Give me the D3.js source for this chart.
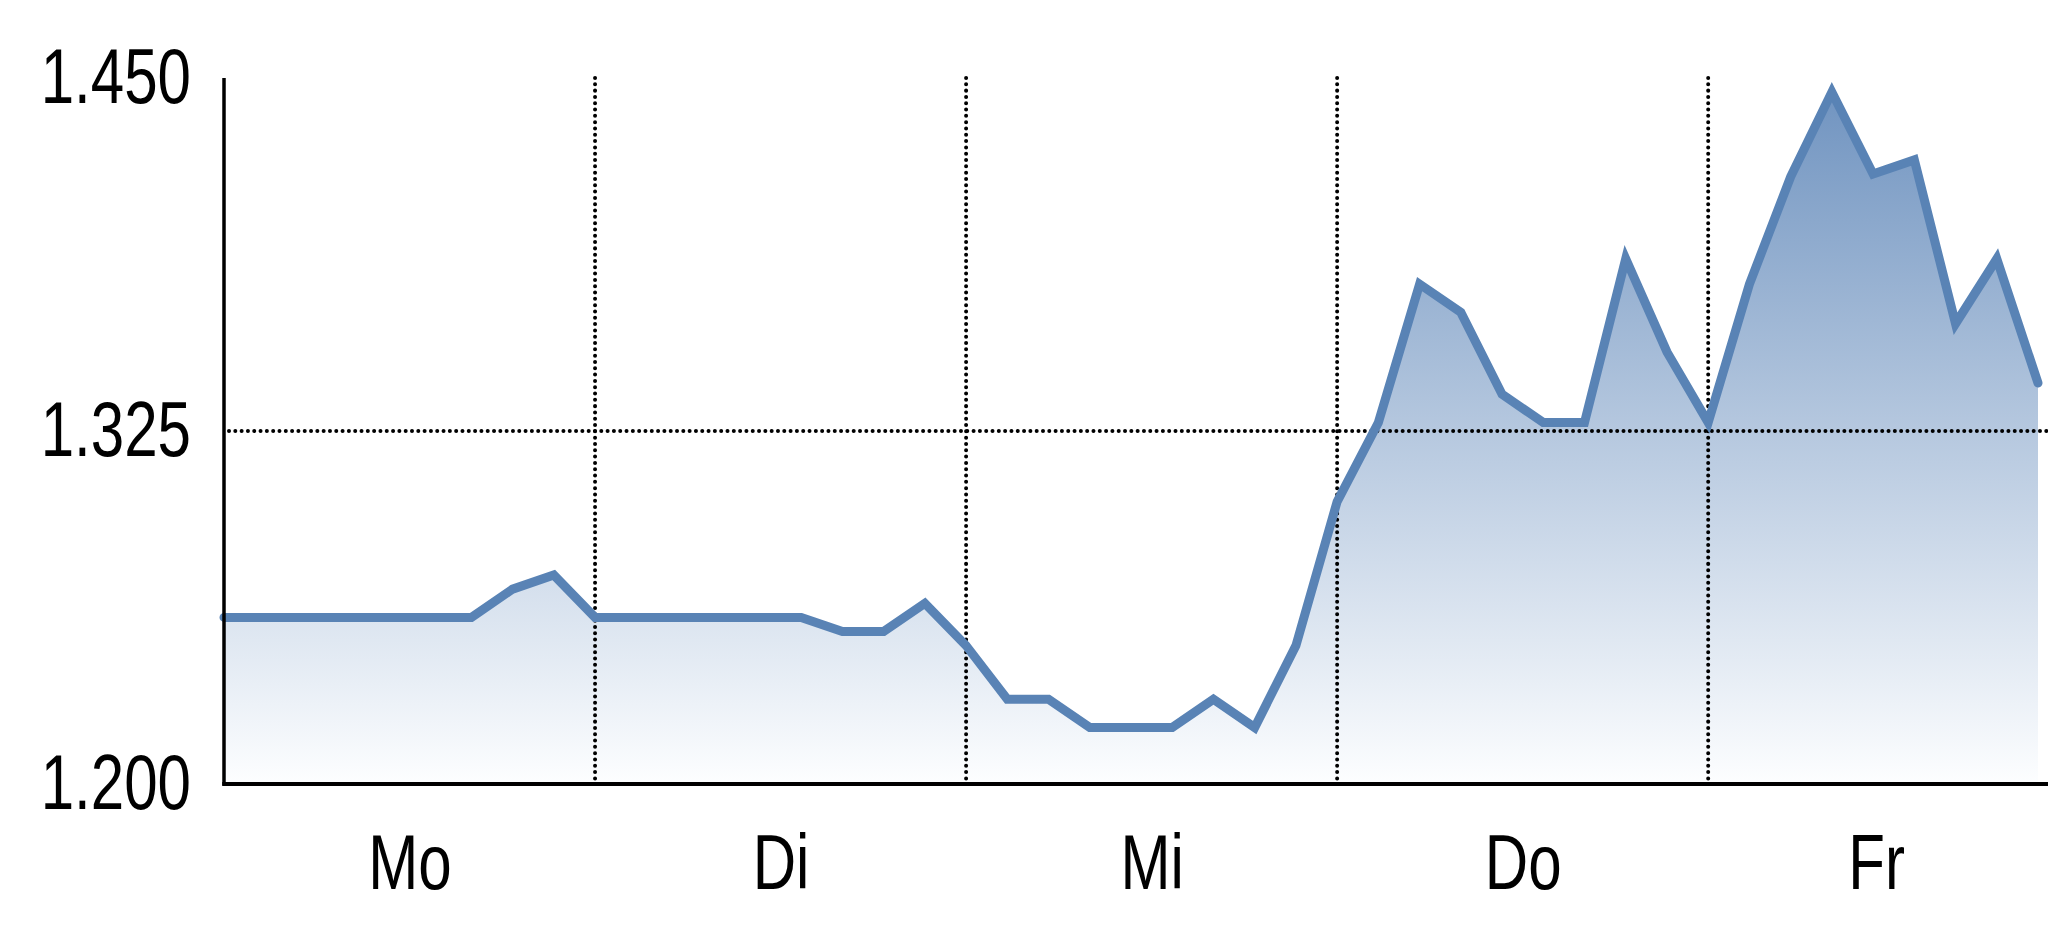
<!DOCTYPE html>
<html>
<head>
<meta charset="utf-8">
<script src="https://cdn.jsdelivr.net/npm/d3@7"></script>
<style>
  html, body { margin: 0; padding: 0; background: #ffffff; }
  svg { display: block; }
  .lbl { font-family: "Liberation Sans Narrow", "Arial Narrow", "Liberation Sans", Arial, sans-serif; font-size: 77px; fill: #000; }
</style>
</head>
<body>
<svg id="chart" width="2048" height="937"></svg>
<script>
// ---- data ----
const days = ["Mo", "Di", "Mi", "Do", "Fr"];
const pointsPerDay = 9;
const values = [
  // Mo
  1.259, 1.259, 1.259, 1.259, 1.259, 1.259, 1.259, 1.269, 1.274,
  // Di
  1.259, 1.259, 1.259, 1.259, 1.259, 1.259, 1.254, 1.254, 1.264,
  // Mi
  1.249, 1.230, 1.230, 1.220, 1.220, 1.220, 1.230, 1.220, 1.249,
  // Do
  1.300, 1.328, 1.377, 1.367, 1.338, 1.328, 1.328, 1.386, 1.353,
  // Fr
  1.328, 1.377, 1.415, 1.445, 1.416, 1.421, 1.363, 1.386, 1.342
];
const yTicks = [1.200, 1.325, 1.450];
const yGrid = [1.325];

// ---- layout ----
const M = { left: 224, right: 2038, top: 78, bottom: 784, axisEnd: 2048, plotRight: 2044 };
const condense = 0.78;

const svg = d3.select("#chart");
const x = d3.scaleLinear().domain([0, values.length - 1]).range([M.left, M.right]);
const y = d3.scaleLinear().domain([1.2, 1.45]).range([M.bottom, M.top]);

// gradient
const defs = svg.append("defs");
const grad = defs.append("linearGradient")
  .attr("id", "areaGrad").attr("gradientUnits", "userSpaceOnUse")
  .attr("x1", 0).attr("x2", 0).attr("y1", y(1.45)).attr("y2", y(1.2));
grad.append("stop").attr("offset", "0%").attr("stop-color", "rgb(110,146,191)");
grad.append("stop").attr("offset", "100%").attr("stop-color", "rgb(253,254,255)");

// area
const area = d3.area()
  .x((d, i) => x(i)).y0(y(1.2)).y1(d => y(d));
svg.append("path").datum(values)
  .attr("d", area).attr("fill", "url(#areaGrad)");

// grid
const dotStyle = sel => sel.attr("stroke", "#000").attr("stroke-width", 4)
  .attr("stroke-linecap", "round").attr("stroke-dasharray", "0.01 6.3");
const dayBounds = d3.range(1, days.length).map(k => k * pointsPerDay);
svg.append("g").selectAll("line").data(dayBounds).join("line")
  .attr("x1", d => x(d)).attr("x2", d => x(d))
  .attr("y1", y(1.45)).attr("y2", y(1.2))
  .call(dotStyle);
svg.append("g").selectAll("line").data(yGrid).join("line")
  .attr("x1", M.left + 5).attr("x2", M.axisEnd)
  .attr("y1", d => y(d)).attr("y2", d => y(d))
  .call(dotStyle);

// line
const line = d3.line().x((d, i) => x(i)).y(d => y(d));
svg.append("path").datum(values)
  .attr("d", line).attr("fill", "none")
  .attr("stroke", "#5983b5").attr("stroke-width", 9)
  .attr("stroke-linejoin", "miter").attr("stroke-linecap", "round");

function condenseText(sel) {
  sel.attr("class", "lbl").each(function () {
    const t = d3.select(this);
    const x0 = +(t.attr("x") || 0);
    t.attr("transform", `translate(${x0},0) scale(${condense},1) translate(${-x0},0)`);
  });
}

// y axis
const yAxis = d3.axisLeft(y).tickValues(yTicks).tickSize(0).tickPadding(33)
  .tickFormat(d3.format(".3f"));
const gy = svg.append("g").attr("transform", `translate(${M.left},0)`).call(yAxis);
gy.select(".domain").remove();
gy.attr("font-family", null).attr("font-size", null);
gy.selectAll("text").call(condenseText);

// x axis labels at day centers
const dayCenters = days.map((d, k) => {
  const s = x(k * pointsPerDay);
  const e = Math.min(x((k + 1) * pointsPerDay), M.plotRight);
  return x.invert((s + e) / 2);
});
const xAxis = d3.axisBottom(x).tickValues(dayCenters).tickSize(0).tickPadding(50)
  .tickFormat((d, i) => days[i]);
const gx = svg.append("g").attr("transform", `translate(0,${M.bottom})`).call(xAxis);
gx.select(".domain").remove();
gx.attr("font-family", null).attr("font-size", null);
gx.selectAll("text").call(condenseText);

// axis lines
svg.append("line").attr("x1", M.left).attr("x2", M.left).attr("y1", M.top).attr("y2", M.bottom + 1.5)
  .attr("stroke", "#000").attr("stroke-width", 3.5);
svg.append("line").attr("x1", M.left - 1.75).attr("x2", M.axisEnd).attr("y1", M.bottom).attr("y2", M.bottom)
  .attr("stroke", "#000").attr("stroke-width", 4);
</script>
</body>
</html>
